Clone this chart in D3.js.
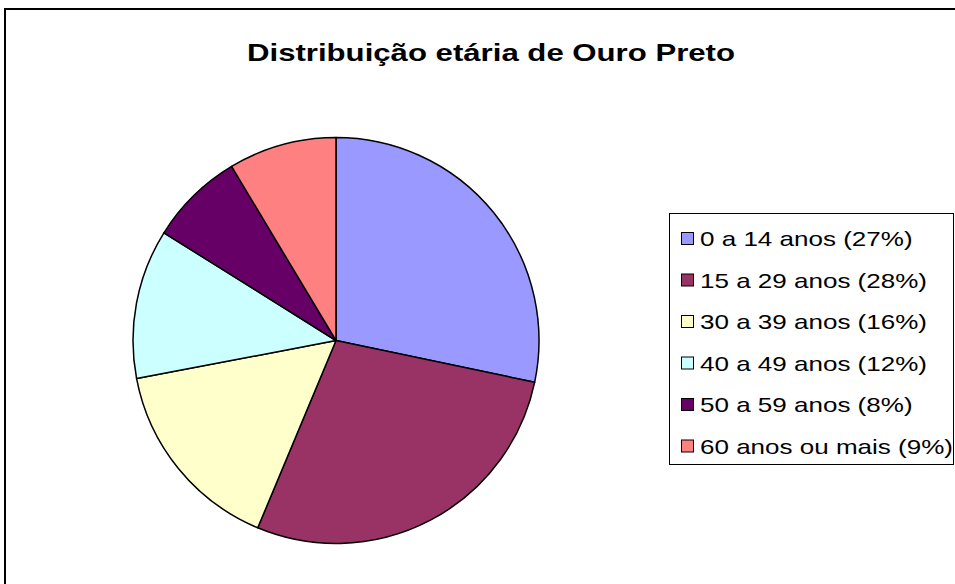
<!DOCTYPE html>
<meta charset="utf-8">
<style>
    body { margin: 0; background: #fff; }
    .title { font: bold 24px "Liberation Sans", Arial, sans-serif; }
    .label { font: 21px "Liberation Sans", Arial, sans-serif; }
    .slice { stroke: #000; stroke-width: 1.5; stroke-linejoin: round; }
</style>
<body>
<script src="https://d3js.org/d3.v7.min.js"></script>
<script>
    var categories = ["0 a 14 anos", "15 a 29 anos", "30 a 39 anos", "40 a 49 anos", "50 a 59 anos", "60 anos ou mais"];
    var values = [28.3, 28.0, 15.7, 11.9, 7.5, 8.6];
    var legendPct = ["27%", "28%", "16%", "12%", "8%", "9%"];
    var colors = ["#9999FF", "#993366", "#FFFFCC", "#CCFFFF", "#660066", "#FF8080"];

    var width = 955, height = 584;
    var svg = d3.select("body").append("svg")
        .attr("width", width)
        .attr("height", height);

    // chart frame (runs off the right and bottom)
    svg.append("rect")
        .attr("x", 5).attr("y", 9)
        .attr("width", 1000).attr("height", 1000)
        .attr("fill", "#fff")
        .attr("stroke", "#000")
        .attr("stroke-width", 2);

    svg.append("text")
        .attr("class", "title")
        .attr("x", 491)
        .attr("y", 61)
        .attr("text-anchor", "middle")
        .attr("textLength", 488)
        .attr("lengthAdjust", "spacingAndGlyphs")
        .text("Distribuição etária de Ouro Preto");

    // Pie
    var cx = 336, cy = 340.5, r = 203;
    var pie = d3.pie().sort(null).value(d => d);
    var arc = d3.arc().innerRadius(0).outerRadius(r);
    var color = d3.scaleOrdinal().domain(categories).range(colors);

    svg.append("g")
        .attr("transform", "translate(" + cx + "," + cy + ")")
        .selectAll("path")
        .data(pie(values))
        .enter().append("path")
        .attr("class", "slice")
        .attr("d", arc)
        .attr("fill", (d, i) => color(categories[i]));

    // Legend
    var legend = svg.append("g");
    legend.append("rect")
        .attr("x", 669.5).attr("y", 213.5)
        .attr("width", 284).attr("height", 251)
        .attr("fill", "#fff")
        .attr("stroke", "#000")
        .attr("stroke-width", 1);

    var rowY = d3.scaleLinear().domain([0, 5]).range([238.5, 446]);

    var item = legend.selectAll("g.item")
        .data(categories)
        .enter().append("g")
        .attr("class", "item")
        .attr("transform", (d, i) => "translate(0," + rowY(i) + ")");

    item.append("rect")
        .attr("x", 681.5).attr("y", -6)
        .attr("width", 12).attr("height", 12)
        .attr("fill", d => color(d))
        .attr("stroke", "#000")
        .attr("stroke-width", 1);

    var labels = item.append("text")
        .attr("class", "label")
        .attr("x", 700)
        .attr("y", 7.5)
        .text((d, i) => d + " (" + legendPct[i] + ")");

    // the original text is wider than plain Arial: the last row runs to x=953
    var stretch = 253 / labels.nodes()[5].getComputedTextLength();
    labels.each(function () {
        d3.select(this)
            .attr("textLength", this.getComputedTextLength() * stretch)
            .attr("lengthAdjust", "spacingAndGlyphs");
    });
</script>
</body>
